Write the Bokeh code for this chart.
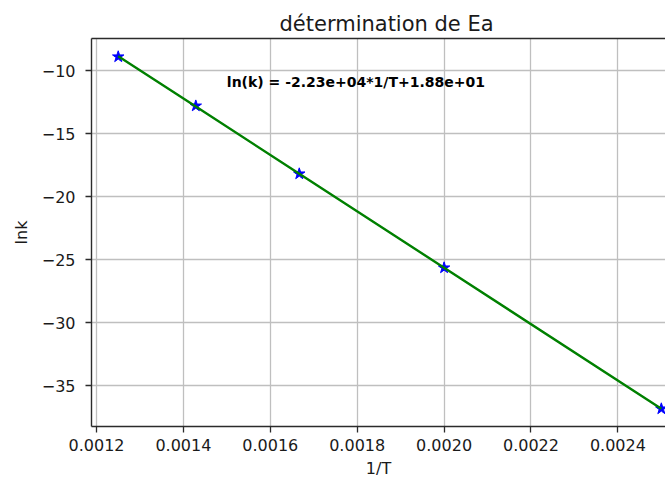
import numpy as np
from bokeh.plotting import figure
from bokeh.models import FixedTicker, LinearAxis, Label, Range1d, NumeralTickFormatter
from bokeh.embed import file_html
from bokeh.resources import INLINE

# ---- data ----
T = [800, 700, 600, 500, 400]
inv_T = [1.0 / t for t in T]
ln_k = [-8.89, -12.79, -18.18, -25.64, -36.83]

x_ticks = [0.0012, 0.0014, 0.0016, 0.0018, 0.0020, 0.0022, 0.0024]
y_ticks = [-35, -30, -25, -20, -15, -10]
y_tick_labels = ["\u221235", "\u221230", "\u221225", "\u221220", "\u221215", "\u221210"]

title_text = "détermination de Ea"
x_label = "1/T"
y_label = "lnk"
eq_text = "ln(k) = -2.23e+04*1/T+1.88e+01"
eq_x, eq_y = 0.0015, -10.9

# linear regression (as in the original analysis)
coef = np.polyfit(inv_T, ln_k, 1)
fit_y = list(np.polyval(coef, inv_T))

FONT = "DejaVu Sans"
TXT = "#1a1a1a"
SPINE = "#2b2b2b"

p = figure(
    frame_width=574, frame_height=388,
    x_range=Range1d(0.0011885, 0.0025096),
    y_range=Range1d(-38.235, -7.44),
    output_backend="svg", toolbar_location=None,
    min_border_left=91, min_border_right=0, min_border_top=38, min_border_bottom=52,
    background_fill_color="white", border_fill_color="white",
    outline_line_color=None,
)

# title
p.title.text = title_text
p.title.text_font = FONT
p.title.text_font_size = "21px"
p.title.text_font_style = "normal"
p.title.text_color = TXT
p.title.align = "left"
p.title.offset = 188
p.title.standoff = 6

# axes
xa = p.below[0]
ya = p.left[0]
for ax in (xa, ya):
    ax.axis_line_color = SPINE
    ax.axis_line_width = 1.4
    ax.major_tick_line_color = SPINE
    ax.major_tick_line_width = 1.3
    ax.major_tick_out = 6
    ax.major_tick_in = 0
    ax.minor_tick_line_color = None
    ax.major_label_text_font = FONT
    ax.major_label_text_font_size = "16px"
    ax.major_label_text_color = TXT
    ax.axis_label_text_font = FONT
    ax.axis_label_text_font_size = "16px"
    ax.axis_label_text_font_style = "normal"
    ax.axis_label_text_color = TXT

xa.ticker = FixedTicker(ticks=x_ticks)
xa.formatter = NumeralTickFormatter(format="0.0000")
xa.major_label_standoff = 6
xa.axis_label = x_label
xa.axis_label_standoff = 5

ya.ticker = FixedTicker(ticks=y_ticks)
ya.major_label_overrides = dict(zip(y_ticks, y_tick_labels))
ya.major_label_standoff = 10
ya.axis_label = y_label
ya.axis_label_standoff = 8

# top spine
top = LinearAxis(ticker=FixedTicker(ticks=[]), axis_line_color=SPINE, axis_line_width=1.4,
                 major_tick_out=0, major_tick_in=0, minor_tick_out=0, minor_tick_in=0,
                 major_label_text_font_size="0px")
p.add_layout(top, "above")

# grid
for g in (p.xgrid[0], p.ygrid[0]):
    g.grid_line_color = "#bfbfbf"
    g.grid_line_width = 1.3
p.xgrid[0].ticker = FixedTicker(ticks=x_ticks)
p.ygrid[0].ticker = FixedTicker(ticks=y_ticks)

# data
p.scatter(inv_T, ln_k, marker="star", size=12, fill_color="#0000ff", line_color="#0000ff")
p.line(inv_T, fit_y, line_color="#008000", line_width=2.4)

p.add_layout(Label(x=eq_x, y=eq_y, text=eq_text, text_font=FONT,
                   text_font_style="bold", text_font_size="14px",
                   text_baseline="alphabetic", text_color="black"))

open("out.html", "w").write(file_html(p, INLINE))
